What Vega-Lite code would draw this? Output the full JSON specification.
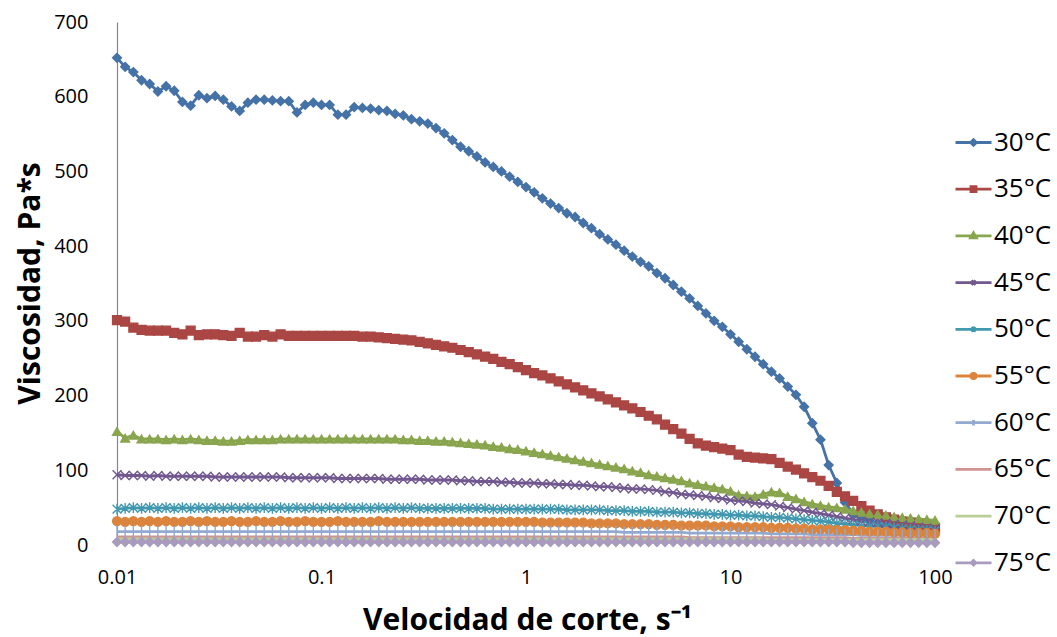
{
"$schema": "https://vega.github.io/schema/vega-lite/v6.json",
"width": 818, "height": 523,
"autosize": "none",
"padding": {"left": 117, "top": 22, "right": 122, "bottom": 92},
"background": "white",
"config": {"view": {"stroke": null}, "font": "Open Sans"},
"data": {"values": [
{"x":0.01,"s":"30°C","v":652},{"x":0.01096,"s":"30°C","v":640},{"x":0.01202,"s":"30°C","v":633},{"x":0.01318,"s":"30°C","v":622},{"x":0.01445,"s":"30°C","v":617},{"x":0.01585,"s":"30°C","v":607},{"x":0.01738,"s":"30°C","v":614},{"x":0.01905,"s":"30°C","v":608},{"x":0.02089,"s":"30°C","v":593},{"x":0.02291,"s":"30°C","v":588},
{"x":0.02512,"s":"30°C","v":602},{"x":0.02754,"s":"30°C","v":598},{"x":0.0302,"s":"30°C","v":601},{"x":0.03311,"s":"30°C","v":596},{"x":0.03631,"s":"30°C","v":587},{"x":0.03981,"s":"30°C","v":581},{"x":0.04365,"s":"30°C","v":592},{"x":0.04786,"s":"30°C","v":596},{"x":0.05248,"s":"30°C","v":596},{"x":0.05754,"s":"30°C","v":595},
{"x":0.0631,"s":"30°C","v":594},{"x":0.06918,"s":"30°C","v":594},{"x":0.07586,"s":"30°C","v":579},{"x":0.08318,"s":"30°C","v":589},{"x":0.0912,"s":"30°C","v":592},{"x":0.1,"s":"30°C","v":589},{"x":0.1096,"s":"30°C","v":589},{"x":0.1202,"s":"30°C","v":576},{"x":0.1318,"s":"30°C","v":576},{"x":0.1445,"s":"30°C","v":586},
{"x":0.1585,"s":"30°C","v":585},{"x":0.1738,"s":"30°C","v":584},{"x":0.1905,"s":"30°C","v":582},{"x":0.2089,"s":"30°C","v":581},{"x":0.2291,"s":"30°C","v":577},{"x":0.2512,"s":"30°C","v":575},{"x":0.2754,"s":"30°C","v":570},{"x":0.302,"s":"30°C","v":567},{"x":0.3311,"s":"30°C","v":564},{"x":0.3631,"s":"30°C","v":558},
{"x":0.3981,"s":"30°C","v":551},{"x":0.4365,"s":"30°C","v":542},{"x":0.4786,"s":"30°C","v":533},{"x":0.5248,"s":"30°C","v":527},{"x":0.5754,"s":"30°C","v":520},{"x":0.631,"s":"30°C","v":512},{"x":0.6918,"s":"30°C","v":506},{"x":0.7586,"s":"30°C","v":500},{"x":0.8318,"s":"30°C","v":493},{"x":0.912,"s":"30°C","v":486},
{"x":1,"s":"30°C","v":479},{"x":1.096,"s":"30°C","v":472},{"x":1.202,"s":"30°C","v":464},{"x":1.318,"s":"30°C","v":457},{"x":1.445,"s":"30°C","v":451},{"x":1.585,"s":"30°C","v":444},{"x":1.738,"s":"30°C","v":439},{"x":1.905,"s":"30°C","v":431},{"x":2.089,"s":"30°C","v":424},{"x":2.291,"s":"30°C","v":416},
{"x":2.512,"s":"30°C","v":409},{"x":2.754,"s":"30°C","v":402},{"x":3.02,"s":"30°C","v":394},{"x":3.311,"s":"30°C","v":386},{"x":3.631,"s":"30°C","v":379},{"x":3.981,"s":"30°C","v":373},{"x":4.365,"s":"30°C","v":364},{"x":4.786,"s":"30°C","v":357},{"x":5.248,"s":"30°C","v":348},{"x":5.754,"s":"30°C","v":339},
{"x":6.31,"s":"30°C","v":330},{"x":6.918,"s":"30°C","v":320},{"x":7.586,"s":"30°C","v":310},{"x":8.318,"s":"30°C","v":300},{"x":9.12,"s":"30°C","v":292},{"x":10,"s":"30°C","v":282},{"x":10.96,"s":"30°C","v":272},{"x":12.02,"s":"30°C","v":262},{"x":13.18,"s":"30°C","v":252},{"x":14.45,"s":"30°C","v":242},
{"x":15.85,"s":"30°C","v":232},{"x":17.38,"s":"30°C","v":223},{"x":19.05,"s":"30°C","v":212},{"x":20.89,"s":"30°C","v":201},{"x":22.91,"s":"30°C","v":185},{"x":25.12,"s":"30°C","v":163},{"x":27.54,"s":"30°C","v":141},{"x":30.2,"s":"30°C","v":107},{"x":33.11,"s":"30°C","v":83},{"x":36.31,"s":"30°C","v":57},
{"x":39.81,"s":"30°C","v":42},{"x":43.65,"s":"30°C","v":36},{"x":47.86,"s":"30°C","v":32},{"x":52.48,"s":"30°C","v":29},{"x":57.54,"s":"30°C","v":27},{"x":63.1,"s":"30°C","v":25},{"x":69.18,"s":"30°C","v":24},{"x":75.86,"s":"30°C","v":23},{"x":83.18,"s":"30°C","v":22},{"x":91.2,"s":"30°C","v":21},{"x":100,"s":"30°C","v":20},

{"x":0.01,"s":"35°C","v":301},{"x":0.01096,"s":"35°C","v":299},{"x":0.01202,"s":"35°C","v":291},{"x":0.01318,"s":"35°C","v":288},{"x":0.01445,"s":"35°C","v":287},{"x":0.01585,"s":"35°C","v":287},{"x":0.01738,"s":"35°C","v":287},{"x":0.01905,"s":"35°C","v":284},{"x":0.02089,"s":"35°C","v":282},{"x":0.02291,"s":"35°C","v":287},
{"x":0.02512,"s":"35°C","v":281},{"x":0.02754,"s":"35°C","v":282},{"x":0.0302,"s":"35°C","v":282},{"x":0.03311,"s":"35°C","v":281},{"x":0.03631,"s":"35°C","v":280},{"x":0.03981,"s":"35°C","v":284},{"x":0.04365,"s":"35°C","v":279},{"x":0.04786,"s":"35°C","v":279},{"x":0.05248,"s":"35°C","v":281},{"x":0.05754,"s":"35°C","v":279},
{"x":0.0631,"s":"35°C","v":282},{"x":0.06918,"s":"35°C","v":280},{"x":0.07586,"s":"35°C","v":280},{"x":0.08318,"s":"35°C","v":280},{"x":0.0912,"s":"35°C","v":280},{"x":0.1,"s":"35°C","v":280},{"x":0.1096,"s":"35°C","v":280},{"x":0.1202,"s":"35°C","v":280},{"x":0.1318,"s":"35°C","v":280},{"x":0.1445,"s":"35°C","v":280},
{"x":0.1585,"s":"35°C","v":279},{"x":0.1738,"s":"35°C","v":279},{"x":0.1905,"s":"35°C","v":278},{"x":0.2089,"s":"35°C","v":277},{"x":0.2291,"s":"35°C","v":276},{"x":0.2512,"s":"35°C","v":275},{"x":0.2754,"s":"35°C","v":274},{"x":0.302,"s":"35°C","v":272},{"x":0.3311,"s":"35°C","v":270},{"x":0.3631,"s":"35°C","v":268},
{"x":0.3981,"s":"35°C","v":266},{"x":0.4365,"s":"35°C","v":264},{"x":0.4786,"s":"35°C","v":261},{"x":0.5248,"s":"35°C","v":258},{"x":0.5754,"s":"35°C","v":255},{"x":0.631,"s":"35°C","v":252},{"x":0.6918,"s":"35°C","v":249},{"x":0.7586,"s":"35°C","v":245},{"x":0.8318,"s":"35°C","v":242},{"x":0.912,"s":"35°C","v":238},
{"x":1,"s":"35°C","v":234},{"x":1.096,"s":"35°C","v":230},{"x":1.202,"s":"35°C","v":227},{"x":1.318,"s":"35°C","v":223},{"x":1.445,"s":"35°C","v":219},{"x":1.585,"s":"35°C","v":215},{"x":1.738,"s":"35°C","v":211},{"x":1.905,"s":"35°C","v":207},{"x":2.089,"s":"35°C","v":203},{"x":2.291,"s":"35°C","v":199},
{"x":2.512,"s":"35°C","v":195},{"x":2.754,"s":"35°C","v":191},{"x":3.02,"s":"35°C","v":187},{"x":3.311,"s":"35°C","v":183},{"x":3.631,"s":"35°C","v":178},{"x":3.981,"s":"35°C","v":173},{"x":4.365,"s":"35°C","v":168},{"x":4.786,"s":"35°C","v":161},{"x":5.248,"s":"35°C","v":155},{"x":5.754,"s":"35°C","v":149},
{"x":6.31,"s":"35°C","v":142},{"x":6.918,"s":"35°C","v":136},{"x":7.586,"s":"35°C","v":133},{"x":8.318,"s":"35°C","v":131},{"x":9.12,"s":"35°C","v":129},{"x":10,"s":"35°C","v":127},{"x":10.96,"s":"35°C","v":121},{"x":12.02,"s":"35°C","v":118},{"x":13.18,"s":"35°C","v":117},{"x":14.45,"s":"35°C","v":116},
{"x":15.85,"s":"35°C","v":115},{"x":17.38,"s":"35°C","v":110},{"x":19.05,"s":"35°C","v":105},{"x":20.89,"s":"35°C","v":101},{"x":22.91,"s":"35°C","v":96},{"x":25.12,"s":"35°C","v":91},{"x":27.54,"s":"35°C","v":86},{"x":30.2,"s":"35°C","v":79},{"x":33.11,"s":"35°C","v":71},{"x":36.31,"s":"35°C","v":65},
{"x":39.81,"s":"35°C","v":59},{"x":43.65,"s":"35°C","v":52},{"x":47.86,"s":"35°C","v":46},{"x":52.48,"s":"35°C","v":41},{"x":57.54,"s":"35°C","v":37},{"x":63.1,"s":"35°C","v":34},{"x":69.18,"s":"35°C","v":31},{"x":75.86,"s":"35°C","v":29},{"x":83.18,"s":"35°C","v":27},{"x":91.2,"s":"35°C","v":25},{"x":100,"s":"35°C","v":23},

{"x":0.01,"s":"40°C","v":152},{"x":0.01096,"s":"40°C","v":143},{"x":0.01202,"s":"40°C","v":147},{"x":0.01318,"s":"40°C","v":142},{"x":0.01445,"s":"40°C","v":142},{"x":0.01585,"s":"40°C","v":142},{"x":0.01738,"s":"40°C","v":141},{"x":0.01905,"s":"40°C","v":142},{"x":0.02089,"s":"40°C","v":141},{"x":0.02291,"s":"40°C","v":142},
{"x":0.02512,"s":"40°C","v":141},{"x":0.02754,"s":"40°C","v":140},{"x":0.0302,"s":"40°C","v":140},{"x":0.03311,"s":"40°C","v":139},{"x":0.03631,"s":"40°C","v":139},{"x":0.03981,"s":"40°C","v":140},{"x":0.04365,"s":"40°C","v":141},{"x":0.04786,"s":"40°C","v":141},{"x":0.05248,"s":"40°C","v":141},{"x":0.05754,"s":"40°C","v":141},
{"x":0.0631,"s":"40°C","v":142},{"x":0.06918,"s":"40°C","v":142},{"x":0.07586,"s":"40°C","v":142},{"x":0.08318,"s":"40°C","v":142},{"x":0.0912,"s":"40°C","v":142},{"x":0.1,"s":"40°C","v":142},{"x":0.1096,"s":"40°C","v":142},{"x":0.1202,"s":"40°C","v":142},{"x":0.1318,"s":"40°C","v":142},{"x":0.1445,"s":"40°C","v":142},
{"x":0.1585,"s":"40°C","v":142},{"x":0.1738,"s":"40°C","v":142},{"x":0.1905,"s":"40°C","v":142},{"x":0.2089,"s":"40°C","v":142},{"x":0.2291,"s":"40°C","v":142},{"x":0.2512,"s":"40°C","v":141},{"x":0.2754,"s":"40°C","v":141},{"x":0.302,"s":"40°C","v":140},{"x":0.3311,"s":"40°C","v":140},{"x":0.3631,"s":"40°C","v":139},
{"x":0.3981,"s":"40°C","v":139},{"x":0.4365,"s":"40°C","v":138},{"x":0.4786,"s":"40°C","v":137},{"x":0.5248,"s":"40°C","v":136},{"x":0.5754,"s":"40°C","v":135},{"x":0.631,"s":"40°C","v":134},{"x":0.6918,"s":"40°C","v":132},{"x":0.7586,"s":"40°C","v":131},{"x":0.8318,"s":"40°C","v":129},{"x":0.912,"s":"40°C","v":128},
{"x":1,"s":"40°C","v":126},{"x":1.096,"s":"40°C","v":124},{"x":1.202,"s":"40°C","v":122},{"x":1.318,"s":"40°C","v":120},{"x":1.445,"s":"40°C","v":118},{"x":1.585,"s":"40°C","v":116},{"x":1.738,"s":"40°C","v":114},{"x":1.905,"s":"40°C","v":112},{"x":2.089,"s":"40°C","v":110},{"x":2.291,"s":"40°C","v":108},
{"x":2.512,"s":"40°C","v":106},{"x":2.754,"s":"40°C","v":104},{"x":3.02,"s":"40°C","v":102},{"x":3.311,"s":"40°C","v":99},{"x":3.631,"s":"40°C","v":97},{"x":3.981,"s":"40°C","v":94},{"x":4.365,"s":"40°C","v":92},{"x":4.786,"s":"40°C","v":90},{"x":5.248,"s":"40°C","v":88},{"x":5.754,"s":"40°C","v":86},
{"x":6.31,"s":"40°C","v":83},{"x":6.918,"s":"40°C","v":81},{"x":7.586,"s":"40°C","v":79},{"x":8.318,"s":"40°C","v":77},{"x":9.12,"s":"40°C","v":75},{"x":10,"s":"40°C","v":72},{"x":10.96,"s":"40°C","v":67},{"x":12.02,"s":"40°C","v":66},{"x":13.18,"s":"40°C","v":65},{"x":14.45,"s":"40°C","v":68},
{"x":15.85,"s":"40°C","v":71},{"x":17.38,"s":"40°C","v":70},{"x":19.05,"s":"40°C","v":65},{"x":20.89,"s":"40°C","v":62},{"x":22.91,"s":"40°C","v":58},{"x":25.12,"s":"40°C","v":55},{"x":27.54,"s":"40°C","v":53},{"x":30.2,"s":"40°C","v":51},{"x":33.11,"s":"40°C","v":50},{"x":36.31,"s":"40°C","v":48},
{"x":39.81,"s":"40°C","v":46},{"x":43.65,"s":"40°C","v":44},{"x":47.86,"s":"40°C","v":42},{"x":52.48,"s":"40°C","v":41},{"x":57.54,"s":"40°C","v":40},{"x":63.1,"s":"40°C","v":38},{"x":69.18,"s":"40°C","v":37},{"x":75.86,"s":"40°C","v":36},{"x":83.18,"s":"40°C","v":35},{"x":91.2,"s":"40°C","v":34},{"x":100,"s":"40°C","v":33},

{"x":0.01,"s":"45°C","v":94},{"x":0.01096,"s":"45°C","v":93},{"x":0.01202,"s":"45°C","v":93},{"x":0.01318,"s":"45°C","v":93},{"x":0.01445,"s":"45°C","v":92},{"x":0.01585,"s":"45°C","v":93},{"x":0.01738,"s":"45°C","v":92},{"x":0.01905,"s":"45°C","v":92},{"x":0.02089,"s":"45°C","v":92},{"x":0.02291,"s":"45°C","v":92},
{"x":0.02512,"s":"45°C","v":92},{"x":0.02754,"s":"45°C","v":92},{"x":0.0302,"s":"45°C","v":91},{"x":0.03311,"s":"45°C","v":91},{"x":0.03631,"s":"45°C","v":91},{"x":0.03981,"s":"45°C","v":91},{"x":0.04365,"s":"45°C","v":91},{"x":0.04786,"s":"45°C","v":91},{"x":0.05248,"s":"45°C","v":91},{"x":0.05754,"s":"45°C","v":91},
{"x":0.0631,"s":"45°C","v":91},{"x":0.06918,"s":"45°C","v":90},{"x":0.07586,"s":"45°C","v":90},{"x":0.08318,"s":"45°C","v":90},{"x":0.0912,"s":"45°C","v":90},{"x":0.1,"s":"45°C","v":90},{"x":0.1096,"s":"45°C","v":90},{"x":0.1202,"s":"45°C","v":89},{"x":0.1318,"s":"45°C","v":89},{"x":0.1445,"s":"45°C","v":89},
{"x":0.1585,"s":"45°C","v":89},{"x":0.1738,"s":"45°C","v":89},{"x":0.1905,"s":"45°C","v":89},{"x":0.2089,"s":"45°C","v":88},{"x":0.2291,"s":"45°C","v":88},{"x":0.2512,"s":"45°C","v":88},{"x":0.2754,"s":"45°C","v":88},{"x":0.302,"s":"45°C","v":88},{"x":0.3311,"s":"45°C","v":87},{"x":0.3631,"s":"45°C","v":87},
{"x":0.3981,"s":"45°C","v":87},{"x":0.4365,"s":"45°C","v":87},{"x":0.4786,"s":"45°C","v":86},{"x":0.5248,"s":"45°C","v":86},{"x":0.5754,"s":"45°C","v":85},{"x":0.631,"s":"45°C","v":85},{"x":0.6918,"s":"45°C","v":85},{"x":0.7586,"s":"45°C","v":84},{"x":0.8318,"s":"45°C","v":84},{"x":0.912,"s":"45°C","v":83},
{"x":1,"s":"45°C","v":83},{"x":1.096,"s":"45°C","v":83},{"x":1.202,"s":"45°C","v":82},{"x":1.318,"s":"45°C","v":82},{"x":1.445,"s":"45°C","v":81},{"x":1.585,"s":"45°C","v":81},{"x":1.738,"s":"45°C","v":80},{"x":1.905,"s":"45°C","v":80},{"x":2.089,"s":"45°C","v":79},{"x":2.291,"s":"45°C","v":78},
{"x":2.512,"s":"45°C","v":78},{"x":2.754,"s":"45°C","v":77},{"x":3.02,"s":"45°C","v":76},{"x":3.311,"s":"45°C","v":75},{"x":3.631,"s":"45°C","v":75},{"x":3.981,"s":"45°C","v":74},{"x":4.365,"s":"45°C","v":73},{"x":4.786,"s":"45°C","v":71},{"x":5.248,"s":"45°C","v":70},{"x":5.754,"s":"45°C","v":68},
{"x":6.31,"s":"45°C","v":67},{"x":6.918,"s":"45°C","v":66},{"x":7.586,"s":"45°C","v":65},{"x":8.318,"s":"45°C","v":63},{"x":9.12,"s":"45°C","v":62},{"x":10,"s":"45°C","v":60},{"x":10.96,"s":"45°C","v":59},{"x":12.02,"s":"45°C","v":58},{"x":13.18,"s":"45°C","v":56},{"x":14.45,"s":"45°C","v":55},
{"x":15.85,"s":"45°C","v":54},{"x":17.38,"s":"45°C","v":52},{"x":19.05,"s":"45°C","v":50},{"x":20.89,"s":"45°C","v":48},{"x":22.91,"s":"45°C","v":46},{"x":25.12,"s":"45°C","v":44},{"x":27.54,"s":"45°C","v":42},{"x":30.2,"s":"45°C","v":40},{"x":33.11,"s":"45°C","v":38},{"x":36.31,"s":"45°C","v":36},
{"x":39.81,"s":"45°C","v":34},{"x":43.65,"s":"45°C","v":32},{"x":47.86,"s":"45°C","v":31},{"x":52.48,"s":"45°C","v":30},{"x":57.54,"s":"45°C","v":29},{"x":63.1,"s":"45°C","v":28},{"x":69.18,"s":"45°C","v":27},{"x":75.86,"s":"45°C","v":26},{"x":83.18,"s":"45°C","v":24},{"x":91.2,"s":"45°C","v":23},{"x":100,"s":"45°C","v":22},

{"x":0.01,"s":"50°C","v":48},{"x":0.01096,"s":"50°C","v":49},{"x":0.01202,"s":"50°C","v":50},{"x":0.01318,"s":"50°C","v":49},{"x":0.01445,"s":"50°C","v":50},{"x":0.01585,"s":"50°C","v":49},{"x":0.01738,"s":"50°C","v":50},{"x":0.01905,"s":"50°C","v":49},{"x":0.02089,"s":"50°C","v":50},{"x":0.02291,"s":"50°C","v":49},
{"x":0.02512,"s":"50°C","v":50},{"x":0.02754,"s":"50°C","v":49},{"x":0.0302,"s":"50°C","v":50},{"x":0.03311,"s":"50°C","v":49},{"x":0.03631,"s":"50°C","v":50},{"x":0.03981,"s":"50°C","v":49},{"x":0.04365,"s":"50°C","v":50},{"x":0.04786,"s":"50°C","v":49},{"x":0.05248,"s":"50°C","v":50},{"x":0.05754,"s":"50°C","v":49},
{"x":0.0631,"s":"50°C","v":50},{"x":0.06918,"s":"50°C","v":49},{"x":0.07586,"s":"50°C","v":50},{"x":0.08318,"s":"50°C","v":49},{"x":0.0912,"s":"50°C","v":50},{"x":0.1,"s":"50°C","v":49},{"x":0.1096,"s":"50°C","v":50},{"x":0.1202,"s":"50°C","v":49},{"x":0.1318,"s":"50°C","v":50},{"x":0.1445,"s":"50°C","v":49},
{"x":0.1585,"s":"50°C","v":50},{"x":0.1738,"s":"50°C","v":49},{"x":0.1905,"s":"50°C","v":50},{"x":0.2089,"s":"50°C","v":49},{"x":0.2291,"s":"50°C","v":50},{"x":0.2512,"s":"50°C","v":49},{"x":0.2754,"s":"50°C","v":50},{"x":0.302,"s":"50°C","v":49},{"x":0.3311,"s":"50°C","v":49},{"x":0.3631,"s":"50°C","v":49},
{"x":0.3981,"s":"50°C","v":49},{"x":0.4365,"s":"50°C","v":49},{"x":0.4786,"s":"50°C","v":49},{"x":0.5248,"s":"50°C","v":49},{"x":0.5754,"s":"50°C","v":49},{"x":0.631,"s":"50°C","v":49},{"x":0.6918,"s":"50°C","v":48},{"x":0.7586,"s":"50°C","v":48},{"x":0.8318,"s":"50°C","v":48},{"x":0.912,"s":"50°C","v":48},
{"x":1,"s":"50°C","v":48},{"x":1.096,"s":"50°C","v":48},{"x":1.202,"s":"50°C","v":48},{"x":1.318,"s":"50°C","v":48},{"x":1.445,"s":"50°C","v":48},{"x":1.585,"s":"50°C","v":47},{"x":1.738,"s":"50°C","v":47},{"x":1.905,"s":"50°C","v":47},{"x":2.089,"s":"50°C","v":47},{"x":2.291,"s":"50°C","v":47},
{"x":2.512,"s":"50°C","v":46},{"x":2.754,"s":"50°C","v":46},{"x":3.02,"s":"50°C","v":46},{"x":3.311,"s":"50°C","v":45},{"x":3.631,"s":"50°C","v":45},{"x":3.981,"s":"50°C","v":45},{"x":4.365,"s":"50°C","v":44},{"x":4.786,"s":"50°C","v":44},{"x":5.248,"s":"50°C","v":44},{"x":5.754,"s":"50°C","v":43},
{"x":6.31,"s":"50°C","v":43},{"x":6.918,"s":"50°C","v":42},{"x":7.586,"s":"50°C","v":42},{"x":8.318,"s":"50°C","v":41},{"x":9.12,"s":"50°C","v":41},{"x":10,"s":"50°C","v":40},{"x":10.96,"s":"50°C","v":40},{"x":12.02,"s":"50°C","v":39},{"x":13.18,"s":"50°C","v":39},{"x":14.45,"s":"50°C","v":38},
{"x":15.85,"s":"50°C","v":37},{"x":17.38,"s":"50°C","v":37},{"x":19.05,"s":"50°C","v":36},{"x":20.89,"s":"50°C","v":35},{"x":22.91,"s":"50°C","v":34},{"x":25.12,"s":"50°C","v":33},{"x":27.54,"s":"50°C","v":32},{"x":30.2,"s":"50°C","v":31},{"x":33.11,"s":"50°C","v":29},{"x":36.31,"s":"50°C","v":28},
{"x":39.81,"s":"50°C","v":27},{"x":43.65,"s":"50°C","v":26},{"x":47.86,"s":"50°C","v":25},{"x":52.48,"s":"50°C","v":25},{"x":57.54,"s":"50°C","v":24},{"x":63.1,"s":"50°C","v":23},{"x":69.18,"s":"50°C","v":22},{"x":75.86,"s":"50°C","v":21},{"x":83.18,"s":"50°C","v":20},{"x":91.2,"s":"50°C","v":20},{"x":100,"s":"50°C","v":19},

{"x":0.01,"s":"55°C","v":32},{"x":0.01096,"s":"55°C","v":31},{"x":0.01202,"s":"55°C","v":32},{"x":0.01318,"s":"55°C","v":31},{"x":0.01445,"s":"55°C","v":32},{"x":0.01585,"s":"55°C","v":31},{"x":0.01738,"s":"55°C","v":32},{"x":0.01905,"s":"55°C","v":31},{"x":0.02089,"s":"55°C","v":31},{"x":0.02291,"s":"55°C","v":32},
{"x":0.02512,"s":"55°C","v":31},{"x":0.02754,"s":"55°C","v":32},{"x":0.0302,"s":"55°C","v":31},{"x":0.03311,"s":"55°C","v":31},{"x":0.03631,"s":"55°C","v":32},{"x":0.03981,"s":"55°C","v":31},{"x":0.04365,"s":"55°C","v":31},{"x":0.04786,"s":"55°C","v":32},{"x":0.05248,"s":"55°C","v":31},{"x":0.05754,"s":"55°C","v":31},
{"x":0.0631,"s":"55°C","v":32},{"x":0.06918,"s":"55°C","v":31},{"x":0.07586,"s":"55°C","v":31},{"x":0.08318,"s":"55°C","v":32},{"x":0.0912,"s":"55°C","v":31},{"x":0.1,"s":"55°C","v":31},{"x":0.1096,"s":"55°C","v":31},{"x":0.1202,"s":"55°C","v":32},{"x":0.1318,"s":"55°C","v":31},{"x":0.1445,"s":"55°C","v":31},
{"x":0.1585,"s":"55°C","v":31},{"x":0.1738,"s":"55°C","v":31},{"x":0.1905,"s":"55°C","v":32},{"x":0.2089,"s":"55°C","v":31},{"x":0.2291,"s":"55°C","v":31},{"x":0.2512,"s":"55°C","v":31},{"x":0.2754,"s":"55°C","v":31},{"x":0.302,"s":"55°C","v":31},{"x":0.3311,"s":"55°C","v":31},{"x":0.3631,"s":"55°C","v":31},
{"x":0.3981,"s":"55°C","v":31},{"x":0.4365,"s":"55°C","v":31},{"x":0.4786,"s":"55°C","v":31},{"x":0.5248,"s":"55°C","v":31},{"x":0.5754,"s":"55°C","v":31},{"x":0.631,"s":"55°C","v":31},{"x":0.6918,"s":"55°C","v":31},{"x":0.7586,"s":"55°C","v":31},{"x":0.8318,"s":"55°C","v":31},{"x":0.912,"s":"55°C","v":31},
{"x":1,"s":"55°C","v":31},{"x":1.096,"s":"55°C","v":31},{"x":1.202,"s":"55°C","v":30},{"x":1.318,"s":"55°C","v":30},{"x":1.445,"s":"55°C","v":30},{"x":1.585,"s":"55°C","v":30},{"x":1.738,"s":"55°C","v":30},{"x":1.905,"s":"55°C","v":30},{"x":2.089,"s":"55°C","v":29},{"x":2.291,"s":"55°C","v":29},
{"x":2.512,"s":"55°C","v":29},{"x":2.754,"s":"55°C","v":29},{"x":3.02,"s":"55°C","v":28},{"x":3.311,"s":"55°C","v":28},{"x":3.631,"s":"55°C","v":28},{"x":3.981,"s":"55°C","v":28},{"x":4.365,"s":"55°C","v":27},{"x":4.786,"s":"55°C","v":27},{"x":5.248,"s":"55°C","v":27},{"x":5.754,"s":"55°C","v":26},
{"x":6.31,"s":"55°C","v":26},{"x":6.918,"s":"55°C","v":26},{"x":7.586,"s":"55°C","v":26},{"x":8.318,"s":"55°C","v":25},{"x":9.12,"s":"55°C","v":25},{"x":10,"s":"55°C","v":25},{"x":10.96,"s":"55°C","v":24},{"x":12.02,"s":"55°C","v":24},{"x":13.18,"s":"55°C","v":24},{"x":14.45,"s":"55°C","v":24},
{"x":15.85,"s":"55°C","v":23},{"x":17.38,"s":"55°C","v":23},{"x":19.05,"s":"55°C","v":23},{"x":20.89,"s":"55°C","v":22},{"x":22.91,"s":"55°C","v":22},{"x":25.12,"s":"55°C","v":21},{"x":27.54,"s":"55°C","v":21},{"x":30.2,"s":"55°C","v":21},{"x":33.11,"s":"55°C","v":20},{"x":36.31,"s":"55°C","v":20},
{"x":39.81,"s":"55°C","v":19},{"x":43.65,"s":"55°C","v":19},{"x":47.86,"s":"55°C","v":18},{"x":52.48,"s":"55°C","v":18},{"x":57.54,"s":"55°C","v":18},{"x":63.1,"s":"55°C","v":17},{"x":69.18,"s":"55°C","v":17},{"x":75.86,"s":"55°C","v":16},{"x":83.18,"s":"55°C","v":16},{"x":91.2,"s":"55°C","v":16},{"x":100,"s":"55°C","v":15},

{"x":0.01,"s":"60°C","v":18},{"x":0.01096,"s":"60°C","v":18},{"x":0.01202,"s":"60°C","v":18},{"x":0.01318,"s":"60°C","v":18},{"x":0.01445,"s":"60°C","v":18},{"x":0.01585,"s":"60°C","v":18},{"x":0.01738,"s":"60°C","v":18},{"x":0.01905,"s":"60°C","v":18},{"x":0.02089,"s":"60°C","v":18},{"x":0.02291,"s":"60°C","v":18},
{"x":0.02512,"s":"60°C","v":18},{"x":0.02754,"s":"60°C","v":18},{"x":0.0302,"s":"60°C","v":18},{"x":0.03311,"s":"60°C","v":18},{"x":0.03631,"s":"60°C","v":18},{"x":0.03981,"s":"60°C","v":18},{"x":0.04365,"s":"60°C","v":18},{"x":0.04786,"s":"60°C","v":18},{"x":0.05248,"s":"60°C","v":18},{"x":0.05754,"s":"60°C","v":18},
{"x":0.0631,"s":"60°C","v":18},{"x":0.06918,"s":"60°C","v":18},{"x":0.07586,"s":"60°C","v":18},{"x":0.08318,"s":"60°C","v":18},{"x":0.0912,"s":"60°C","v":18},{"x":0.1,"s":"60°C","v":18},{"x":0.1096,"s":"60°C","v":18},{"x":0.1202,"s":"60°C","v":18},{"x":0.1318,"s":"60°C","v":18},{"x":0.1445,"s":"60°C","v":18},
{"x":0.1585,"s":"60°C","v":18},{"x":0.1738,"s":"60°C","v":18},{"x":0.1905,"s":"60°C","v":18},{"x":0.2089,"s":"60°C","v":18},{"x":0.2291,"s":"60°C","v":18},{"x":0.2512,"s":"60°C","v":18},{"x":0.2754,"s":"60°C","v":18},{"x":0.302,"s":"60°C","v":18},{"x":0.3311,"s":"60°C","v":18},{"x":0.3631,"s":"60°C","v":18},
{"x":0.3981,"s":"60°C","v":18},{"x":0.4365,"s":"60°C","v":18},{"x":0.4786,"s":"60°C","v":18},{"x":0.5248,"s":"60°C","v":18},{"x":0.5754,"s":"60°C","v":18},{"x":0.631,"s":"60°C","v":18},{"x":0.6918,"s":"60°C","v":18},{"x":0.7586,"s":"60°C","v":18},{"x":0.8318,"s":"60°C","v":18},{"x":0.912,"s":"60°C","v":18},
{"x":1,"s":"60°C","v":18},{"x":1.096,"s":"60°C","v":18},{"x":1.202,"s":"60°C","v":18},{"x":1.318,"s":"60°C","v":18},{"x":1.445,"s":"60°C","v":18},{"x":1.585,"s":"60°C","v":18},{"x":1.738,"s":"60°C","v":18},{"x":1.905,"s":"60°C","v":18},{"x":2.089,"s":"60°C","v":18},{"x":2.291,"s":"60°C","v":18},
{"x":2.512,"s":"60°C","v":18},{"x":2.754,"s":"60°C","v":18},{"x":3.02,"s":"60°C","v":17},{"x":3.311,"s":"60°C","v":17},{"x":3.631,"s":"60°C","v":17},{"x":3.981,"s":"60°C","v":17},{"x":4.365,"s":"60°C","v":17},{"x":4.786,"s":"60°C","v":17},{"x":5.248,"s":"60°C","v":17},{"x":5.754,"s":"60°C","v":17},
{"x":6.31,"s":"60°C","v":16},{"x":6.918,"s":"60°C","v":16},{"x":7.586,"s":"60°C","v":16},{"x":8.318,"s":"60°C","v":16},{"x":9.12,"s":"60°C","v":16},{"x":10,"s":"60°C","v":16},{"x":10.96,"s":"60°C","v":16},{"x":12.02,"s":"60°C","v":16},{"x":13.18,"s":"60°C","v":16},{"x":14.45,"s":"60°C","v":16},
{"x":15.85,"s":"60°C","v":15},{"x":17.38,"s":"60°C","v":15},{"x":19.05,"s":"60°C","v":15},{"x":20.89,"s":"60°C","v":15},{"x":22.91,"s":"60°C","v":15},{"x":25.12,"s":"60°C","v":14},{"x":27.54,"s":"60°C","v":14},{"x":30.2,"s":"60°C","v":14},{"x":33.11,"s":"60°C","v":14},{"x":36.31,"s":"60°C","v":14},
{"x":39.81,"s":"60°C","v":14},{"x":43.65,"s":"60°C","v":13},{"x":47.86,"s":"60°C","v":13},{"x":52.48,"s":"60°C","v":13},{"x":57.54,"s":"60°C","v":13},{"x":63.1,"s":"60°C","v":13},{"x":69.18,"s":"60°C","v":13},{"x":75.86,"s":"60°C","v":13},{"x":83.18,"s":"60°C","v":13},{"x":91.2,"s":"60°C","v":13},{"x":100,"s":"60°C","v":13},

{"x":0.01,"s":"65°C","v":11},{"x":0.01096,"s":"65°C","v":11},{"x":0.01202,"s":"65°C","v":11},{"x":0.01318,"s":"65°C","v":11},{"x":0.01445,"s":"65°C","v":11},{"x":0.01585,"s":"65°C","v":11},{"x":0.01738,"s":"65°C","v":11},{"x":0.01905,"s":"65°C","v":11},{"x":0.02089,"s":"65°C","v":11},{"x":0.02291,"s":"65°C","v":11},
{"x":0.02512,"s":"65°C","v":11},{"x":0.02754,"s":"65°C","v":11},{"x":0.0302,"s":"65°C","v":11},{"x":0.03311,"s":"65°C","v":11},{"x":0.03631,"s":"65°C","v":11},{"x":0.03981,"s":"65°C","v":11},{"x":0.04365,"s":"65°C","v":11},{"x":0.04786,"s":"65°C","v":11},{"x":0.05248,"s":"65°C","v":11},{"x":0.05754,"s":"65°C","v":11},
{"x":0.0631,"s":"65°C","v":11},{"x":0.06918,"s":"65°C","v":11},{"x":0.07586,"s":"65°C","v":11},{"x":0.08318,"s":"65°C","v":11},{"x":0.0912,"s":"65°C","v":11},{"x":0.1,"s":"65°C","v":11},{"x":0.1096,"s":"65°C","v":11},{"x":0.1202,"s":"65°C","v":11},{"x":0.1318,"s":"65°C","v":11},{"x":0.1445,"s":"65°C","v":11},
{"x":0.1585,"s":"65°C","v":11},{"x":0.1738,"s":"65°C","v":11},{"x":0.1905,"s":"65°C","v":11},{"x":0.2089,"s":"65°C","v":11},{"x":0.2291,"s":"65°C","v":11},{"x":0.2512,"s":"65°C","v":11},{"x":0.2754,"s":"65°C","v":11},{"x":0.302,"s":"65°C","v":11},{"x":0.3311,"s":"65°C","v":11},{"x":0.3631,"s":"65°C","v":11},
{"x":0.3981,"s":"65°C","v":11},{"x":0.4365,"s":"65°C","v":11},{"x":0.4786,"s":"65°C","v":11},{"x":0.5248,"s":"65°C","v":11},{"x":0.5754,"s":"65°C","v":11},{"x":0.631,"s":"65°C","v":11},{"x":0.6918,"s":"65°C","v":11},{"x":0.7586,"s":"65°C","v":11},{"x":0.8318,"s":"65°C","v":11},{"x":0.912,"s":"65°C","v":11},
{"x":1,"s":"65°C","v":11},{"x":1.096,"s":"65°C","v":11},{"x":1.202,"s":"65°C","v":11},{"x":1.318,"s":"65°C","v":11},{"x":1.445,"s":"65°C","v":11},{"x":1.585,"s":"65°C","v":11},{"x":1.738,"s":"65°C","v":11},{"x":1.905,"s":"65°C","v":11},{"x":2.089,"s":"65°C","v":11},{"x":2.291,"s":"65°C","v":11},
{"x":2.512,"s":"65°C","v":11},{"x":2.754,"s":"65°C","v":11},{"x":3.02,"s":"65°C","v":11},{"x":3.311,"s":"65°C","v":11},{"x":3.631,"s":"65°C","v":11},{"x":3.981,"s":"65°C","v":11},{"x":4.365,"s":"65°C","v":11},{"x":4.786,"s":"65°C","v":11},{"x":5.248,"s":"65°C","v":11},{"x":5.754,"s":"65°C","v":11},
{"x":6.31,"s":"65°C","v":10},{"x":6.918,"s":"65°C","v":10},{"x":7.586,"s":"65°C","v":10},{"x":8.318,"s":"65°C","v":10},{"x":9.12,"s":"65°C","v":10},{"x":10,"s":"65°C","v":10},{"x":10.96,"s":"65°C","v":10},{"x":12.02,"s":"65°C","v":10},{"x":13.18,"s":"65°C","v":10},{"x":14.45,"s":"65°C","v":10},
{"x":15.85,"s":"65°C","v":10},{"x":17.38,"s":"65°C","v":10},{"x":19.05,"s":"65°C","v":10},{"x":20.89,"s":"65°C","v":10},{"x":22.91,"s":"65°C","v":10},{"x":25.12,"s":"65°C","v":10},{"x":27.54,"s":"65°C","v":10},{"x":30.2,"s":"65°C","v":10},{"x":33.11,"s":"65°C","v":10},{"x":36.31,"s":"65°C","v":10},
{"x":39.81,"s":"65°C","v":9},{"x":43.65,"s":"65°C","v":9},{"x":47.86,"s":"65°C","v":9},{"x":52.48,"s":"65°C","v":9},{"x":57.54,"s":"65°C","v":9},{"x":63.1,"s":"65°C","v":9},{"x":69.18,"s":"65°C","v":9},{"x":75.86,"s":"65°C","v":9},{"x":83.18,"s":"65°C","v":9},{"x":91.2,"s":"65°C","v":9},{"x":100,"s":"65°C","v":9},

{"x":0.01,"s":"70°C","v":8},{"x":0.01096,"s":"70°C","v":8},{"x":0.01202,"s":"70°C","v":8},{"x":0.01318,"s":"70°C","v":8},{"x":0.01445,"s":"70°C","v":8},{"x":0.01585,"s":"70°C","v":8},{"x":0.01738,"s":"70°C","v":8},{"x":0.01905,"s":"70°C","v":8},{"x":0.02089,"s":"70°C","v":8},{"x":0.02291,"s":"70°C","v":8},
{"x":0.02512,"s":"70°C","v":8},{"x":0.02754,"s":"70°C","v":8},{"x":0.0302,"s":"70°C","v":8},{"x":0.03311,"s":"70°C","v":8},{"x":0.03631,"s":"70°C","v":8},{"x":0.03981,"s":"70°C","v":8},{"x":0.04365,"s":"70°C","v":8},{"x":0.04786,"s":"70°C","v":8},{"x":0.05248,"s":"70°C","v":8},{"x":0.05754,"s":"70°C","v":8},
{"x":0.0631,"s":"70°C","v":8},{"x":0.06918,"s":"70°C","v":8},{"x":0.07586,"s":"70°C","v":8},{"x":0.08318,"s":"70°C","v":8},{"x":0.0912,"s":"70°C","v":8},{"x":0.1,"s":"70°C","v":8},{"x":0.1096,"s":"70°C","v":8},{"x":0.1202,"s":"70°C","v":8},{"x":0.1318,"s":"70°C","v":8},{"x":0.1445,"s":"70°C","v":8},
{"x":0.1585,"s":"70°C","v":8},{"x":0.1738,"s":"70°C","v":8},{"x":0.1905,"s":"70°C","v":8},{"x":0.2089,"s":"70°C","v":8},{"x":0.2291,"s":"70°C","v":8},{"x":0.2512,"s":"70°C","v":8},{"x":0.2754,"s":"70°C","v":8},{"x":0.302,"s":"70°C","v":8},{"x":0.3311,"s":"70°C","v":8},{"x":0.3631,"s":"70°C","v":8},
{"x":0.3981,"s":"70°C","v":8},{"x":0.4365,"s":"70°C","v":8},{"x":0.4786,"s":"70°C","v":8},{"x":0.5248,"s":"70°C","v":8},{"x":0.5754,"s":"70°C","v":8},{"x":0.631,"s":"70°C","v":8},{"x":0.6918,"s":"70°C","v":8},{"x":0.7586,"s":"70°C","v":8},{"x":0.8318,"s":"70°C","v":8},{"x":0.912,"s":"70°C","v":8},
{"x":1,"s":"70°C","v":8},{"x":1.096,"s":"70°C","v":8},{"x":1.202,"s":"70°C","v":8},{"x":1.318,"s":"70°C","v":8},{"x":1.445,"s":"70°C","v":8},{"x":1.585,"s":"70°C","v":8},{"x":1.738,"s":"70°C","v":8},{"x":1.905,"s":"70°C","v":8},{"x":2.089,"s":"70°C","v":8},{"x":2.291,"s":"70°C","v":8},
{"x":2.512,"s":"70°C","v":8},{"x":2.754,"s":"70°C","v":8},{"x":3.02,"s":"70°C","v":8},{"x":3.311,"s":"70°C","v":8},{"x":3.631,"s":"70°C","v":8},{"x":3.981,"s":"70°C","v":8},{"x":4.365,"s":"70°C","v":8},{"x":4.786,"s":"70°C","v":8},{"x":5.248,"s":"70°C","v":8},{"x":5.754,"s":"70°C","v":8},
{"x":6.31,"s":"70°C","v":8},{"x":6.918,"s":"70°C","v":8},{"x":7.586,"s":"70°C","v":8},{"x":8.318,"s":"70°C","v":8},{"x":9.12,"s":"70°C","v":8},{"x":10,"s":"70°C","v":8},{"x":10.96,"s":"70°C","v":8},{"x":12.02,"s":"70°C","v":8},{"x":13.18,"s":"70°C","v":8},{"x":14.45,"s":"70°C","v":8},
{"x":15.85,"s":"70°C","v":7},{"x":17.38,"s":"70°C","v":7},{"x":19.05,"s":"70°C","v":7},{"x":20.89,"s":"70°C","v":7},{"x":22.91,"s":"70°C","v":7},{"x":25.12,"s":"70°C","v":7},{"x":27.54,"s":"70°C","v":7},{"x":30.2,"s":"70°C","v":7},{"x":33.11,"s":"70°C","v":7},{"x":36.31,"s":"70°C","v":7},
{"x":39.81,"s":"70°C","v":7},{"x":43.65,"s":"70°C","v":7},{"x":47.86,"s":"70°C","v":7},{"x":52.48,"s":"70°C","v":7},{"x":57.54,"s":"70°C","v":7},{"x":63.1,"s":"70°C","v":7},{"x":69.18,"s":"70°C","v":7},{"x":75.86,"s":"70°C","v":7},{"x":83.18,"s":"70°C","v":7},{"x":91.2,"s":"70°C","v":7},{"x":100,"s":"70°C","v":7},

{"x":0.01,"s":"75°C","v":4},{"x":0.01096,"s":"75°C","v":4},{"x":0.01202,"s":"75°C","v":4},{"x":0.01318,"s":"75°C","v":4},{"x":0.01445,"s":"75°C","v":4},{"x":0.01585,"s":"75°C","v":4},{"x":0.01738,"s":"75°C","v":4},{"x":0.01905,"s":"75°C","v":4},{"x":0.02089,"s":"75°C","v":4},{"x":0.02291,"s":"75°C","v":4},
{"x":0.02512,"s":"75°C","v":4},{"x":0.02754,"s":"75°C","v":4},{"x":0.0302,"s":"75°C","v":4},{"x":0.03311,"s":"75°C","v":4},{"x":0.03631,"s":"75°C","v":4},{"x":0.03981,"s":"75°C","v":4},{"x":0.04365,"s":"75°C","v":4},{"x":0.04786,"s":"75°C","v":4},{"x":0.05248,"s":"75°C","v":4},{"x":0.05754,"s":"75°C","v":4},
{"x":0.0631,"s":"75°C","v":4},{"x":0.06918,"s":"75°C","v":4},{"x":0.07586,"s":"75°C","v":4},{"x":0.08318,"s":"75°C","v":4},{"x":0.0912,"s":"75°C","v":4},{"x":0.1,"s":"75°C","v":4},{"x":0.1096,"s":"75°C","v":4},{"x":0.1202,"s":"75°C","v":4},{"x":0.1318,"s":"75°C","v":4},{"x":0.1445,"s":"75°C","v":4},
{"x":0.1585,"s":"75°C","v":4},{"x":0.1738,"s":"75°C","v":4},{"x":0.1905,"s":"75°C","v":4},{"x":0.2089,"s":"75°C","v":4},{"x":0.2291,"s":"75°C","v":4},{"x":0.2512,"s":"75°C","v":4},{"x":0.2754,"s":"75°C","v":4},{"x":0.302,"s":"75°C","v":4},{"x":0.3311,"s":"75°C","v":4},{"x":0.3631,"s":"75°C","v":4},
{"x":0.3981,"s":"75°C","v":4},{"x":0.4365,"s":"75°C","v":4},{"x":0.4786,"s":"75°C","v":4},{"x":0.5248,"s":"75°C","v":4},{"x":0.5754,"s":"75°C","v":4},{"x":0.631,"s":"75°C","v":4},{"x":0.6918,"s":"75°C","v":4},{"x":0.7586,"s":"75°C","v":4},{"x":0.8318,"s":"75°C","v":4},{"x":0.912,"s":"75°C","v":4},
{"x":1,"s":"75°C","v":4},{"x":1.096,"s":"75°C","v":4},{"x":1.202,"s":"75°C","v":4},{"x":1.318,"s":"75°C","v":4},{"x":1.445,"s":"75°C","v":4},{"x":1.585,"s":"75°C","v":4},{"x":1.738,"s":"75°C","v":4},{"x":1.905,"s":"75°C","v":4},{"x":2.089,"s":"75°C","v":4},{"x":2.291,"s":"75°C","v":4},
{"x":2.512,"s":"75°C","v":4},{"x":2.754,"s":"75°C","v":4},{"x":3.02,"s":"75°C","v":4},{"x":3.311,"s":"75°C","v":4},{"x":3.631,"s":"75°C","v":4},{"x":3.981,"s":"75°C","v":4},{"x":4.365,"s":"75°C","v":4},{"x":4.786,"s":"75°C","v":4},{"x":5.248,"s":"75°C","v":4},{"x":5.754,"s":"75°C","v":4},
{"x":6.31,"s":"75°C","v":4},{"x":6.918,"s":"75°C","v":4},{"x":7.586,"s":"75°C","v":4},{"x":8.318,"s":"75°C","v":4},{"x":9.12,"s":"75°C","v":4},{"x":10,"s":"75°C","v":4},{"x":10.96,"s":"75°C","v":4},{"x":12.02,"s":"75°C","v":4},{"x":13.18,"s":"75°C","v":4},{"x":14.45,"s":"75°C","v":4},
{"x":15.85,"s":"75°C","v":4},{"x":17.38,"s":"75°C","v":4},{"x":19.05,"s":"75°C","v":4},{"x":20.89,"s":"75°C","v":4},{"x":22.91,"s":"75°C","v":4},{"x":25.12,"s":"75°C","v":4},{"x":27.54,"s":"75°C","v":4},{"x":30.2,"s":"75°C","v":4},{"x":33.11,"s":"75°C","v":4},{"x":36.31,"s":"75°C","v":4},
{"x":39.81,"s":"75°C","v":3},{"x":43.65,"s":"75°C","v":3},{"x":47.86,"s":"75°C","v":3},{"x":52.48,"s":"75°C","v":3},{"x":57.54,"s":"75°C","v":3},{"x":63.1,"s":"75°C","v":3},{"x":69.18,"s":"75°C","v":3},{"x":75.86,"s":"75°C","v":3},{"x":83.18,"s":"75°C","v":3},{"x":91.2,"s":"75°C","v":3},{"x":100,"s":"75°C","v":3}
]},
"encoding": {
  "x": {"field": "x", "type": "quantitative",
        "scale": {"type": "log", "domain": [0.01, 100]},
        "axis": {"values": [0.01, 0.1, 1, 10, 100], "format": "~g", "grid": false, "domain": false, "ticks": false, "tickSize": 0,
                 "labelFont": "Open Sans", "labelFontSize": 20, "labelColor": "#000", "labelPadding": 22, "labelFlush": false,
                 "title": "Velocidad de corte, s⁻¹", "titleFont": "Open Sans", "titleFontSize": 30, "titleFontWeight": "bold", "titleColor": "#000",
                 "titleX": 410, "titleY": 75, "titleAlign": "center", "titleBaseline": "middle"}},
  "y": {"field": "v", "type": "quantitative",
        "scale": {"domain": [0, 700], "nice": false},
        "axis": {"values": [0, 100, 200, 300, 400, 500, 600, 700], "grid": false, "domain": true, "domainColor": "#868686", "domainWidth": 1.2,
                 "ticks": false, "tickSize": 0, "labelFont": "Open Sans", "labelFontSize": 20, "labelColor": "#000", "labelPadding": 29,
                 "title": "Viscosidad, Pa*s", "titleFont": "Open Sans", "titleFontSize": 30, "titleFontWeight": "bold", "titleColor": "#000",
                 "titleX": -87, "titleY": 261, "titleAngle": -90, "titleAlign": "center", "titleBaseline": "middle"}},
  "color": {"field": "s", "type": "nominal",
            "scale": {"domain": ["30°C","35°C","40°C","45°C","50°C","55°C","60°C","65°C","70°C","75°C"],
                      "range": ["#4572A7","#AA4643","#89A54E","#71588F","#4198AF","#DB843D","#93A9CF","#D19392","#B9CD96","#A99BBD"]},
            "legend": {"orient": "none", "legendX": 837, "legendY": 101, "title": null,
                       "labelFont": "Open Sans", "labelFontSize": 26, "labelColor": "#000", "labelOffset": 1, "labelLimit": 300,
                       "symbolSize": 1296, "rowPadding": 13.7, "symbolStrokeWidth": 2.8,
                       "encode": {"symbols": {"update": {
                         "shape": {"signal": "datum.value==='30°C'?'M-1,0H1M0,-0.16L0.16,0L0,0.16L-0.16,0Z':datum.value==='35°C'?'M-1,0H1M-0.14,-0.14H0.14V0.14H-0.14Z':datum.value==='40°C'?'M-1,0H1M0,-0.17L0.16,0.11L-0.16,0.11Z':datum.value==='45°C'?'M-1,0H1M-0.12,-0.12L0.12,0.12M-0.12,0.12L0.12,-0.12':datum.value==='50°C'?'M-1,0H1M-0.12,-0.12L0.12,0.12M-0.12,0.12L0.12,-0.12M0,-0.15V0.15':datum.value==='55°C'?'M-1,0H1M-0.14,0A0.14,0.14,0,1,0,0.14,0A0.14,0.14,0,1,0,-0.14,0Z':datum.value==='60°C'?'M-1,0H1M0,-0.15V0.15':datum.value==='75°C'?'M-1,0H1M0,-0.13L0.13,0L0,0.13L-0.13,0Z':'M-1,0H1'"},
                         "fill": {"scale": "color", "field": "value"},
                         "stroke": {"scale": "color", "field": "value"},
                         "strokeWidth": {"value": 2.8},
                         "size": {"value": 1296},
                         "opacity": {"value": 1}
                       }}}}}
},
"layer": [
  {"mark": {"type": "line", "strokeWidth": 2.8}},
  {"transform": [{"filter": "datum.s !== '65°C' && datum.s !== '70°C'"}],
   "mark": {"type": "point", "filled": true, "opacity": 1, "strokeWidth": 1.4, "size": 78},
   "encoding": {
     "shape": {"field": "s", "type": "nominal", "legend": null,
               "scale": {"domain": ["30°C","35°C","40°C","45°C","50°C","55°C","60°C","75°C"],
                         "range": ["diamond","square","triangle-up","M-1,-1L1,1M-1,1L1,-1","M-1,-1L1,1M-1,1L1,-1M0,-1.2L0,1.2","circle","M0,-1.3L0,1.3","diamond"]}},
     "stroke": {"field": "s", "type": "nominal", "legend": null,
                "scale": {"domain": ["30°C","35°C","40°C","45°C","50°C","55°C","60°C","65°C","70°C","75°C"],
                          "range": ["#4572A7","#AA4643","#89A54E","#71588F","#4198AF","#DB843D","#93A9CF","#D19392","#B9CD96","#A99BBD"]}}
   }}
]
}
